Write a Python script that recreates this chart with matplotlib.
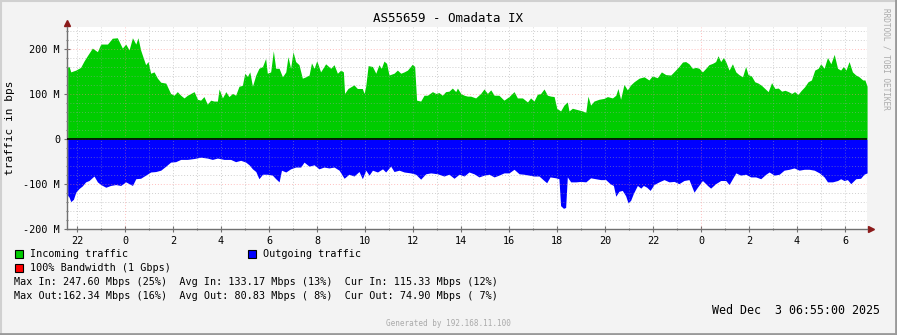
import matplotlib
matplotlib.use("Agg")
import matplotlib.pyplot as plt
from matplotlib.patches import Rectangle
from matplotlib.lines import Line2D
import numpy as np

# hours since Dec 2 00:00, traffic in Mbps
in_hours = [-2.39, -2.33, -2.26, -2.05, -1.85, -1.71, -1.57, -1.36, -1.15, -1.01, -0.73, -0.53, -0.32, -0.11,
            0.03, 0.17, 0.31, 0.45, 0.54, 0.65, 0.77, 0.86, 0.96, 1.07, 1.21, 1.35, 1.49, 1.70, 1.90,
            2.04, 2.18, 2.32, 2.46, 2.60, 2.74, 2.88, 3.02, 3.15, 3.29, 3.43, 3.57, 3.71, 3.85, 3.92,
            4.06, 4.20, 4.33, 4.48, 4.61, 4.75, 4.89, 4.99, 5.10, 5.20, 5.31, 5.45, 5.58, 5.73, 5.86,
            5.93, 6.07, 6.18, 6.28, 6.42, 6.56, 6.70, 6.79, 6.90, 7.00, 7.11, 7.25, 7.39, 7.53, 7.67,
            7.77, 7.88, 7.99, 8.15, 8.36, 8.57, 8.71, 8.85, 8.99, 9.10, 9.15, 9.29, 9.54, 9.68, 9.89,
            9.96, 10.03, 10.13, 10.31, 10.45, 10.58, 10.68, 10.79, 10.90, 11.00, 11.21, 11.35, 11.49,
            11.63, 11.77, 11.97, 12.07, 12.15, 12.32, 12.46, 12.60, 12.81, 12.95, 13.08, 13.22, 13.36,
            13.50, 13.64, 13.78, 13.85, 13.99, 14.13, 14.27, 14.40, 14.61, 14.82, 14.96, 15.10, 15.24,
            15.38, 15.58, 15.79, 16.00, 16.21, 16.35, 16.56, 16.77, 16.90, 17.04, 17.18, 17.32, 17.46,
            17.60, 17.74, 17.88, 17.99, 18.15, 18.29, 18.43, 18.50, 18.64, 18.85, 19.06, 19.20, 19.29,
            19.40, 19.54, 19.75, 19.96, 20.10, 20.31, 20.45, 20.54, 20.65, 20.79, 20.93, 21.07, 21.21,
            21.42, 21.63, 21.83, 21.97, 22.18, 22.35, 22.53, 22.74, 22.94, 23.08, 23.23, 23.36, 23.50,
            23.64, 23.78, 23.92, 24.06, 24.20, 24.33, 24.48, 24.61, 24.71, 24.82, 24.93, 25.03, 25.17,
            25.31, 25.45, 25.58, 25.73, 25.86, 25.96, 26.10, 26.24, 26.38, 26.52, 26.66, 26.80, 26.94,
            27.08, 27.22, 27.36, 27.50, 27.64, 27.78, 27.90, 28.04, 28.18, 28.32, 28.46, 28.60, 28.74,
            28.88, 28.99, 29.13, 29.27, 29.41, 29.55, 29.69, 29.82, 29.93, 30.04, 30.17, 30.31, 30.45,
            30.59, 30.74, 30.83, 30.92]
in_mbps = [160, 162, 150, 154, 160, 174, 186, 203, 195, 212, 212, 225, 226, 203,
           212, 199, 226, 212, 226, 199, 180, 166, 173, 147, 150, 136, 127, 125, 102,
           98, 106, 98, 92, 98, 102, 106, 89, 87, 95, 78, 87, 85, 85, 112,
           92, 106, 95, 102, 98, 118, 120, 147, 140, 150, 118, 143, 158, 162, 180,
           147, 150, 197, 158, 158, 139, 150, 184, 158, 195, 173, 166, 136, 139, 143,
           170, 158, 175, 150, 168, 158, 166, 147, 154, 150, 102, 113, 121, 113, 113,
           102, 118, 164, 162, 147, 166, 158, 174, 169, 143, 147, 154, 147,
           150, 154, 167, 162, 87, 85, 98, 98, 106, 102, 104, 98, 106,
           107, 114, 106, 114, 102, 98, 96, 96, 92, 102, 112, 102, 110,
           98, 98, 87, 95, 106, 92, 92, 83, 92, 85, 100, 102, 112,
           98, 96, 95, 69, 63, 76, 83, 63, 69, 66, 63, 60, 96,
           76, 85, 89, 91, 95, 92, 98, 113, 89, 122, 110, 121, 128,
           136, 139, 132, 141, 137, 150, 144, 143, 154, 162, 172, 173, 168,
           158, 160, 158, 150, 158, 166, 169, 173, 186, 173, 182, 173, 154,
           168, 150, 144, 139, 162, 144, 141, 128, 125, 120, 113, 106, 126,
           113, 114, 107, 109, 106, 102, 106, 100, 109, 117, 128, 132, 154,
           158, 168, 158, 182, 168, 189, 158, 154, 162, 154, 173, 150, 143,
           139, 132, 132, 118]

out_hours = [-2.39, -2.33, -2.26, -2.15, -2.05, -1.92, -1.78, -1.64, -1.50, -1.29, -1.15, -1.01, -0.80,
             -0.60, -0.39, -0.18, 0.03, 0.17, 0.31, 0.45, 0.65, 0.86, 1.07, 1.28, 1.49, 1.70, 1.90,
             2.11, 2.32, 2.60, 2.88, 3.15, 3.43, 3.64, 3.85, 4.13, 4.40, 4.61, 4.82, 5.03, 5.17,
             5.31, 5.45, 5.58, 5.73, 5.93, 6.14, 6.28, 6.42, 6.52, 6.70, 6.90, 7.11, 7.32, 7.46,
             7.67, 7.88, 8.08, 8.29, 8.50, 8.71, 8.92, 9.13, 9.33, 9.54, 9.75, 9.89, 10.03, 10.17,
             10.31, 10.52, 10.73, 10.86, 11.07, 11.21, 11.42, 11.63, 11.90, 12.11, 12.32, 12.53,
             12.74, 13.02, 13.29, 13.50, 13.71, 13.92, 14.13, 14.33, 14.54, 14.75, 14.96, 15.17,
             15.38, 15.58, 15.79, 16.00, 16.21, 16.42, 16.62, 16.83, 17.04, 17.25, 17.46, 17.57,
             17.71, 17.95, 18.08, 18.15, 18.27, 18.36, 18.43, 18.57, 18.78, 18.99, 19.20, 19.40,
             19.61, 19.82, 20.03, 20.21, 20.35, 20.45, 20.58, 20.72, 20.86, 20.96, 21.07, 21.18,
             21.35, 21.49, 21.60, 21.74, 21.88, 22.04, 22.25, 22.46, 22.67, 22.88, 23.08, 23.29,
             23.50, 23.71, 23.85, 24.06, 24.27, 24.40, 24.61, 24.82, 25.03, 25.17, 25.31, 25.45,
             25.65, 25.86, 26.07, 26.28, 26.49, 26.70, 26.84, 27.05, 27.26, 27.46, 27.67, 27.88,
             28.09, 28.30, 28.51, 28.72, 28.93, 29.13, 29.27, 29.48, 29.69, 29.82, 29.96, 30.10,
             30.24, 30.45, 30.65, 30.79, 30.92]
out_mbps = [125, 129, 139, 134, 118, 110, 104, 95, 92, 82, 95, 101, 107,
            103, 101, 103, 95, 99, 103, 88, 87, 80, 73, 72, 69, 60, 51,
            50, 45, 45, 43, 40, 42, 45, 42, 45, 45, 50, 47, 51, 57,
            66, 72, 88, 78, 78, 80, 88, 95, 69, 73, 66, 62, 62, 51,
            60, 57, 66, 62, 64, 62, 69, 87, 78, 82, 72, 88, 69, 80,
            69, 73, 66, 73, 60, 72, 69, 73, 75, 78, 89, 77,
            75, 77, 82, 78, 87, 78, 82, 73, 77, 84, 80, 78,
            84, 80, 75, 75, 67, 77, 78, 80, 82, 82, 92, 97,
            84, 86, 88, 148, 154, 152, 84, 95, 95, 94, 95, 86,
            88, 90, 90, 99, 103, 127, 116, 114, 126, 142, 136, 121,
            103, 109, 103, 107, 114, 101, 95, 90, 95, 94, 99, 92,
            90, 118, 107, 92, 103, 109, 99, 92, 92, 101, 88, 75,
            80, 78, 84, 84, 88, 78, 73, 80, 78, 69, 67, 64,
            69, 67, 67, 69, 75, 84, 95, 95, 92, 88, 92, 90,
            99, 88, 87, 78, 75]

tick_hours = [-2, 0, 2, 4, 6, 8, 10, 12, 14, 16, 18, 20, 22, 24, 26, 28, 30]
ytick_vals = [-200, -100, 0, 100, 200]
ytick_text = ["-200 M", "-100 M", "0", "100 M", "200 M"]

W, H = 897, 335
BG = "#F3F3F3"
MONO = "DejaVu Sans Mono"


def fx(x):
    return x / W


def fy(y):
    return 1 - y / H


fig = plt.figure(figsize=(W / 100, H / 100), dpi=100, facecolor=BG)
ax = fig.add_axes([fx(67), fy(229), 800 / W, 202 / H])
ax.set_facecolor("white")

ax.fill_between(in_hours, 0, in_mbps, color="#00CC00", lw=0, zorder=2)
ax.fill_between(out_hours, 0, -np.array(out_mbps), color="#0000FF", lw=0, zorder=2)

x0, x1 = -2.4167, 30.9167
ax.set_xlim(x0, x1)
ax.set_ylim(-200, 250)

# grid (semi-transparent, drawn over the areas like rrdtool does)
for v in range(-180, 250, 20):
    major = v % 100 == 0
    ax.axhline(v, color="#FF8080" if major else "#A0A0A0", alpha=0.5, lw=0.7,
               ls=(0, (1, 2)), zorder=3)
for h in range(-2, 31):
    ax.axvline(h, color="#FF8080" if h % 24 == 0 else "#A0A0A0", alpha=0.5, lw=0.7,
               ls=(0, (1, 2)), zorder=3)
ax.axhline(0, color="black", lw=1.2, zorder=4)

for s in ["top", "right"]:
    ax.spines[s].set_visible(False)
for s in ["left", "bottom"]:
    ax.spines[s].set_color("#707070")
    ax.spines[s].set_linewidth(1)

ax.set_xticks(tick_hours)
ax.set_xticklabels([str(h % 24) for h in tick_hours])
ax.set_xticks(range(-2, 31), minor=True)
ax.set_yticks(ytick_vals)
ax.set_yticklabels(ytick_text)
ax.set_yticks(range(-200, 250, 20), minor=True)
ax.tick_params(which="both", direction="inout", length=4, width=0.8, color="#707070",
               labelsize=7.3, pad=3)
ax.tick_params(which="minor", length=2)
for lab in ax.get_xticklabels() + ax.get_yticklabels():
    lab.set_fontfamily(MONO)

# axis arrows
ax.plot([0], [1.02], marker="^", color="#8B1A1A", ms=4, transform=ax.transAxes, clip_on=False)
ax.plot([1.005], [0], marker=">", color="#8B1A1A", ms=4, transform=ax.transAxes, clip_on=False)

ax.set_ylabel("traffic in bps", fontfamily=MONO, fontsize=8, labelpad=6)

fig.text(fx(448), fy(19), "AS55659 - Omadata IX", ha="center", va="center",
         fontfamily=MONO, fontsize=9)
fig.text(fx(886), fy(59), "RRDTOOL / TOBI OETIKER", rotation=270, ha="center", va="center",
         fontfamily=MONO, fontsize=5.6, color="#AAAAAA")

# legend
legend_items = [(15, 254, "#00CC00", "Incoming traffic"),
                (248, 254, "#0000FF", "Outgoing traffic"),
                (15, 268, "#FF0000", "100% Bandwidth (1 Gbps)")]
for lx, ly, col, txt in legend_items:
    fig.add_artist(Rectangle((fx(lx), fy(ly + 4)), 8 / W, 8 / H, facecolor=col,
                             edgecolor="black", lw=0.8, transform=fig.transFigure))
    fig.text(fx(lx + 15), fy(ly), txt, ha="left", va="center", fontfamily=MONO, fontsize=7.3)

stats = ["Max In: 247.60 Mbps (25%)  Avg In: 133.17 Mbps (13%)  Cur In: 115.33 Mbps (12%)",
         "Max Out:162.34 Mbps (16%)  Avg Out: 80.83 Mbps ( 8%)  Cur Out: 74.90 Mbps ( 7%)"]
for i, line in enumerate(stats):
    fig.text(fx(14), fy(282 + 14 * i), line, ha="left", va="center", fontfamily=MONO, fontsize=7.3)

fig.text(fx(880), fy(310), "Wed Dec  3 06:55:00 2025", ha="right", va="center",
         fontfamily=MONO, fontsize=8.4)
fig.text(fx(448), fy(324), "Generated by 192.168.11.100", ha="center", va="center",
         fontfamily=MONO, fontsize=5.5, color="#AAAAAA")

# 3d-ish frame
fig.add_artist(Line2D([0, 1], [fy(0.5), fy(0.5)], color="#D0D0D0", lw=1.5, transform=fig.transFigure))
fig.add_artist(Line2D([fx(0.5), fx(0.5)], [0, 1], color="#D0D0D0", lw=1.5, transform=fig.transFigure))
fig.add_artist(Line2D([0, 1], [fy(334), fy(334)], color="#999999", lw=2, transform=fig.transFigure))
fig.add_artist(Line2D([fx(896), fx(896)], [0, 1], color="#999999", lw=2, transform=fig.transFigure))

fig.savefig("out.png", dpi=100, facecolor=BG)
